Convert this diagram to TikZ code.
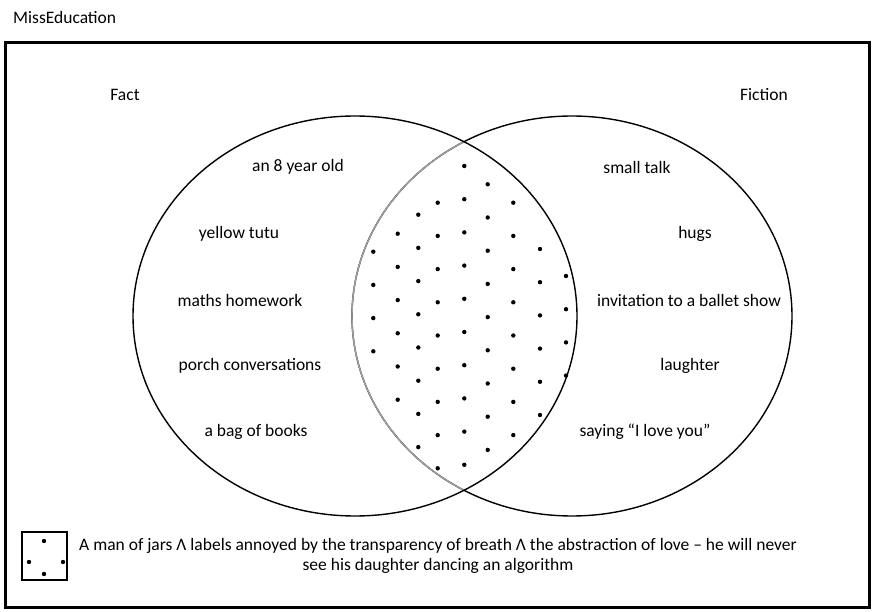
\documentclass[tikz,border=0pt]{standalone}
\usepackage{fontspec}
\setmainfont{Carlito}
\begin{document}
\begin{tikzpicture}[
  x=1pt, y=-1pt,
  every node/.style={inner sep=0pt, font=\fontsize{17.5}{20}\selectfont},
  item/.style={anchor=center},
  set/.style={line width=1.4pt},
  dot/.style={fill=black},
  ]
\useasboundingbox (0,0) rectangle (873,612);

% title and frame
\node[anchor=west] (title) at (13,17) {MissEducation};
\draw[line width=3pt] (5,43) rectangle (869,607);

% the two sets
\draw[set] (572,316) ellipse [x radius=220, y radius=200];
\begin{scope}
  \clip (355,316) ellipse [x radius=222, y radius=200];
  \draw[set, gray!75] (572,316) ellipse [x radius=220, y radius=200];
\end{scope}
\draw[set] (355,316) ellipse [x radius=222, y radius=200];

\node[item] (fact) at (125,95) {Fact};
\node[item] (fiction) at (764,95) {Fiction};

% left set
\node[item] (age) at (298,167) {an 8 year old};
\node[item] (tutu) at (239,234) {yellow tutu};
\node[item] (maths) at (240,300) {maths homework};
\node[item] (porch) at (250,366) {porch conversations};
\node[item] (books) at (256,432) {a bag of books};

% right set
\node[item] (talk) at (637,167) {small talk};
\node[item] (hugs) at (695,234) {hugs};
\node[item] (ballet) at (689,300) {invitation to a ballet show};
\node[item] (laugh) at (690,366) {laughter};
\node[item] (love) at (645,432) {saying “I love you”};

% dots in the overlap
\foreach \x/\y/\n in {373.3/251.7/4, 397.7/233.7/6, 418.3/214.7/8,
    437.7/202.7/9, 464.3/166/10, 487.7/184.3/9, 513.3/202.7/8,
    540/249/6, 566/276/4}
  \foreach \k in {1,...,\n}
    \fill[dot] ({\x},{\y+33.2*(\k-1)}) circle (2.2pt);

% legend
\draw[set] (22,532) rectangle (67,580);
\foreach \x/\y in {44/541, 29/562, 63/562, 44/574}
  \fill[dot] (\x,\y) circle (2.2pt);
\node[item, align=center] (legend) at (438,556)
  {A man of jars Λ labels annoyed by the transparency of breath Λ the abstraction of love – he will never\\
   see his daughter dancing an algorithm};

\end{tikzpicture}
\end{document}
